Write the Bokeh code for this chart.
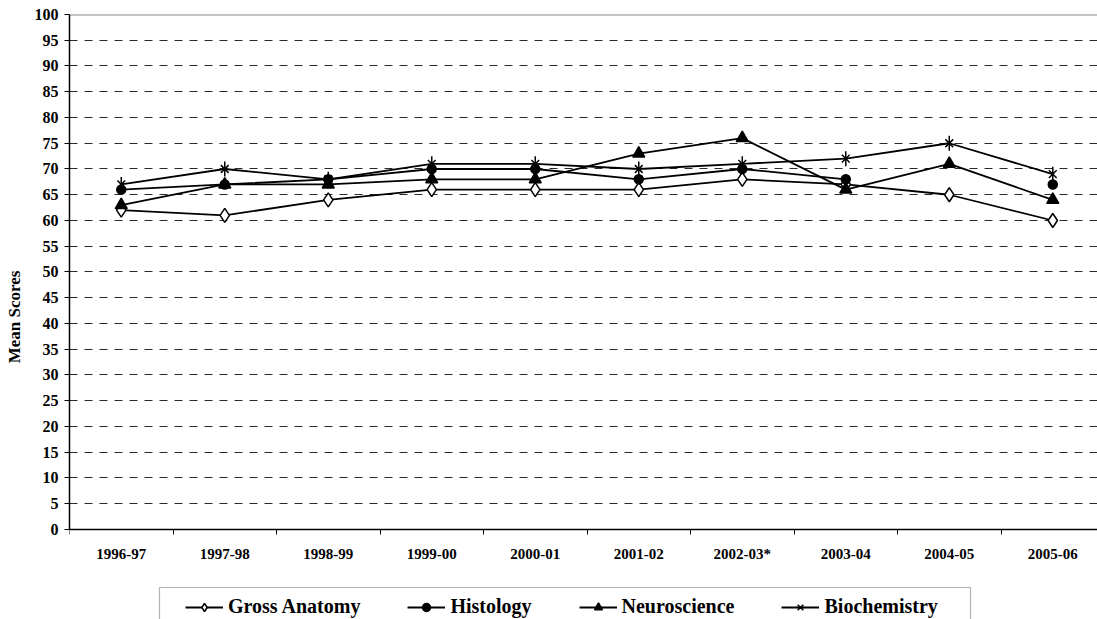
import math

from bokeh.plotting import figure
from bokeh.models import Range1d, FixedTicker, Legend, LegendItem, Span, BoxAnnotation
from bokeh.embed import file_html
from bokeh.resources import INLINE

# Academic years and mean scores per subject
seasons = ["1996-97", "1997-98", "1998-99", "1999-00", "2000-01",
           "2001-02", "2002-03*", "2003-04", "2004-05", "2005-06"]
gross_anatomy = [62, 61, 64, 66, 66, 66, 68, 67, 65, 60]
histology = [66, 67, 68, 70, 70, 68, 70, 68, math.nan, 67]
neuroscience = [63, 67, 67, 68, 68, 73, 76, 66, 71, 64]
biochemistry = [67, 70, 68, 71, 71, 70, 71, 72, 75, 69]
y_ticks = list(range(0, 101, 5))

FONT = "Liberation Serif"

# each season occupies one unit band; points sit in the band centre
x = [i + 0.5 for i in range(len(seasons))]

# the frame runs to the bottom of the canvas; the score axis sits at y=0 and
# the space under it holds the season labels and the legend
p = figure(width=1097, height=619, output_backend="svg", toolbar_location=None,
           x_range=Range1d(0, 9.932), y_range=Range1d(-17.476, 100),
           min_border_left=69, min_border_right=0, min_border_top=14,
           min_border_bottom=0)
p.outline_line_color = None
p.background_fill_color = "white"
p.border_fill_color = "white"

# top edge of the plotting area
p.add_layout(Span(location=100, dimension="width", line_color="#8c8c8c",
                  line_width=2, level="underlay"))

# grid
p.xgrid.visible = False
p.ygrid.grid_line_color = "#2a2a2a"
p.ygrid.grid_line_dash = "8 7"
p.ygrid.grid_line_width = 1

# x axis: labels centred in bands, tick marks on band boundaries
p.xaxis.fixed_location = 0
p.xaxis.ticker = FixedTicker(ticks=x, minor_ticks=list(range(0, 11)))
p.xaxis.major_label_overrides = {xi: s for xi, s in zip(x, seasons)}
p.xaxis.major_tick_in = 0
p.xaxis.major_tick_out = 0
p.xaxis.minor_tick_in = 0
p.xaxis.minor_tick_out = 5
p.xaxis.minor_tick_line_color = "black"
p.xaxis.major_label_standoff = 12
p.xaxis.axis_line_color = "black"
p.xaxis.axis_line_width = 1.5
p.xaxis.major_label_text_font = FONT
p.xaxis.major_label_text_font_style = "bold"
p.xaxis.major_label_text_font_size = "15px"
p.xaxis.major_label_text_color = "black"

# y axis
p.yaxis.bounds = (0, 100)
p.yaxis.ticker = FixedTicker(ticks=y_ticks)
p.yaxis.major_tick_in = 0
p.yaxis.major_tick_out = 5
p.yaxis.major_tick_line_color = "black"
p.yaxis.minor_tick_line_color = None
p.yaxis.major_label_standoff = 6
p.yaxis.axis_line_color = "black"
p.yaxis.axis_line_width = 1.5
p.yaxis.major_label_text_font = FONT
p.yaxis.major_label_text_font_style = "bold"
p.yaxis.major_label_text_font_size = "16px"
p.yaxis.major_label_text_color = "black"
p.yaxis.axis_label = "Mean Scores"
p.yaxis.axis_label_text_font = FONT
p.yaxis.axis_label_text_font_style = "bold"
p.yaxis.axis_label_text_font_size = "17px"
p.yaxis.axis_label_text_color = "black"
p.yaxis.axis_label_standoff = 8

LW = 1.8
MLW = 1.5
series = [
    ("Gross Anatomy", gross_anatomy, [("diamond", 14, 0.0)], "white"),
    ("Histology", histology, [("circle", 9, 0.0)], "black"),
    ("Neuroscience", neuroscience, [("triangle", 12, 0.0)], "black"),
    # six-armed star: an x with a vertical stroke through it
    ("Biochemistry", biochemistry, [("x", 11, 0.0), ("dash", 15, math.pi / 2)], "black"),
]

items = []
for name, vals, markers, fill in series:
    rs = [p.line(x, vals, line_color="black", line_width=LW)]
    for marker, size, angle in markers:
        rs.append(p.scatter(x, vals, marker=marker, size=size, angle=angle,
                            fill_color=fill, line_color="black", line_width=MLW))
    items.append(LegendItem(label=name, renderers=rs))

# frame drawn around the legend, wider than the legend's own padding
p.add_layout(BoxAnnotation(left=159, right=970, top=587, bottom=660,
                           left_units="canvas", right_units="canvas",
                           top_units="canvas", bottom_units="canvas",
                           fill_color=None, fill_alpha=0,
                           line_color="black", line_width=1.2, level="underlay"))

legend = Legend(items=items, orientation="horizontal", location=(105, -10))
legend.label_text_font = FONT
legend.label_text_font_style = "bold"
legend.label_text_font_size = "20px"
legend.label_text_color = "black"
legend.glyph_width = 38
legend.glyph_height = 20
legend.label_height = 20
legend.label_standoff = 5
legend.spacing = 47
legend.padding = 11
legend.border_line_color = "black"
legend.border_line_alpha = 0
legend.background_fill_alpha = 0
legend.margin = 0
p.add_layout(legend, "center")

open("out.html", "w").write(file_html(p, INLINE))
